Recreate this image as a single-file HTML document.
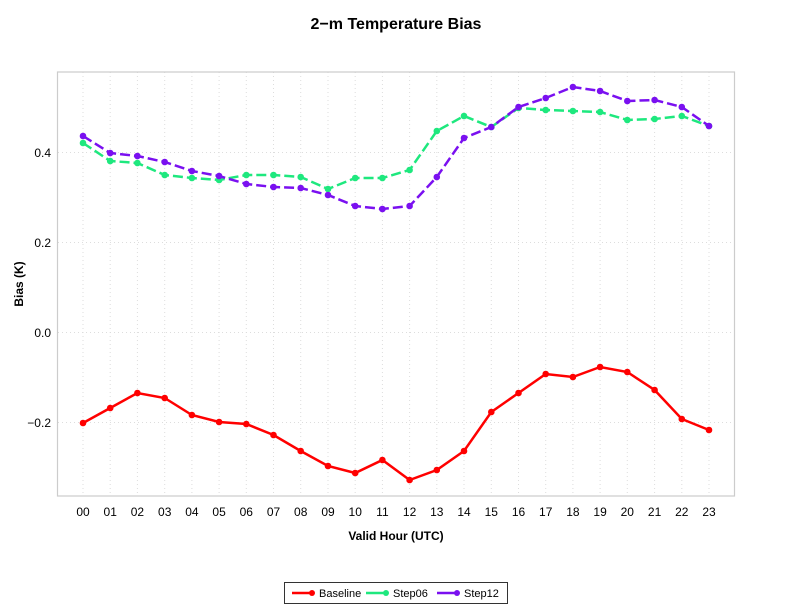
<!DOCTYPE html>
<html><head><meta charset="utf-8"><style>body{margin:0;background:#fff}svg{display:block;font-family:"Liberation Sans",sans-serif}</style></head>
<body>
<svg width="792" height="612" xmlns="http://www.w3.org/2000/svg">
<text x="396" y="29" text-anchor="middle" font-size="16" font-weight="bold">2−m Temperature Bias</text>
<g stroke="#ddd" stroke-dasharray="1,3" stroke-width="1">
<line x1="58" x2="734" y1="152.5" y2="152.5"/><line x1="58" x2="734" y1="242.5" y2="242.5"/><line x1="58" x2="734" y1="332.5" y2="332.5"/><line x1="58" x2="734" y1="422.5" y2="422.5"/>
<line x1="83" x2="83" y1="72" y2="496"/><line x1="110.2" x2="110.2" y1="72" y2="496"/><line x1="137.4" x2="137.4" y1="72" y2="496"/><line x1="164.7" x2="164.7" y1="72" y2="496"/><line x1="191.9" x2="191.9" y1="72" y2="496"/><line x1="219.1" x2="219.1" y1="72" y2="496"/><line x1="246.3" x2="246.3" y1="72" y2="496"/><line x1="273.5" x2="273.5" y1="72" y2="496"/><line x1="300.7" x2="300.7" y1="72" y2="496"/><line x1="328" x2="328" y1="72" y2="496"/><line x1="355.2" x2="355.2" y1="72" y2="496"/><line x1="382.4" x2="382.4" y1="72" y2="496"/><line x1="409.6" x2="409.6" y1="72" y2="496"/><line x1="436.8" x2="436.8" y1="72" y2="496"/><line x1="464" x2="464" y1="72" y2="496"/><line x1="491.3" x2="491.3" y1="72" y2="496"/><line x1="518.5" x2="518.5" y1="72" y2="496"/><line x1="545.7" x2="545.7" y1="72" y2="496"/><line x1="572.9" x2="572.9" y1="72" y2="496"/><line x1="600.1" x2="600.1" y1="72" y2="496"/><line x1="627.3" x2="627.3" y1="72" y2="496"/><line x1="654.6" x2="654.6" y1="72" y2="496"/><line x1="681.8" x2="681.8" y1="72" y2="496"/><line x1="709" x2="709" y1="72" y2="496"/>
</g>
<rect x="57.5" y="72" width="677" height="424" fill="none" stroke="#ccc" stroke-width="1.2"/>
<g font-size="12" text-anchor="end"><text x="51" y="157">0.4</text><text x="51" y="247">0.2</text><text x="51" y="337">0.0</text><text x="51" y="427">−0.2</text></g>
<g font-size="12" text-anchor="middle">
<text x="83" y="516">00</text><text x="110.2" y="516">01</text><text x="137.4" y="516">02</text><text x="164.7" y="516">03</text><text x="191.9" y="516">04</text><text x="219.1" y="516">05</text><text x="246.3" y="516">06</text><text x="273.5" y="516">07</text><text x="300.7" y="516">08</text><text x="328" y="516">09</text><text x="355.2" y="516">10</text><text x="382.4" y="516">11</text><text x="409.6" y="516">12</text><text x="436.8" y="516">13</text><text x="464" y="516">14</text><text x="491.3" y="516">15</text><text x="518.5" y="516">16</text><text x="545.7" y="516">17</text><text x="572.9" y="516">18</text><text x="600.1" y="516">19</text><text x="627.3" y="516">20</text><text x="654.6" y="516">21</text><text x="681.8" y="516">22</text><text x="709" y="516">23</text>
</g>
<text x="396" y="540" text-anchor="middle" font-size="12" font-weight="bold">Valid Hour (UTC)</text>
<text transform="translate(23,284) rotate(-90)" text-anchor="middle" font-size="12" font-weight="bold">Bias (K)</text>
<g id="s"></g>
<rect x="284.5" y="582.5" width="223" height="21" fill="#fff" stroke="#333"/>
<line x1="292" x2="312" y1="593" y2="593" stroke="#f00" stroke-width="2.5"/><circle cx="312" cy="593" r="3" fill="#f00"/><text x="319" y="597" font-size="11">Baseline</text>
<line x1="366" x2="386" y1="593" y2="593" stroke="#1ee87e" stroke-width="2.5"/><circle cx="386" cy="593" r="3" fill="#1ee87e"/><text x="393" y="597" font-size="11">Step06</text>
<line x1="437" x2="457" y1="593" y2="593" stroke="#7a10f0" stroke-width="2.5"/><circle cx="457" cy="593" r="3" fill="#7a10f0"/><text x="464" y="597" font-size="11">Step12</text>
</svg>
<script>
var X=[];for(var i=0;i<24;i++)X.push(83+i*626/23);
var S=[["#f00",[423,408,393,398,415,422,424,435,451,466,473,460,480,470,451,412,393,374,377,367,372,390,419,430]],
["#1ee87e",[143,161,163,175,178,180,175,175,177,189,178,178,170,131,116,127,108,110,111,112,120,119,116,126]],
["#7a10f0",[136,153,156,162,171,176,184,187,188,195,206,209,206,177,138,127,107,98,87,91,101,100,107,126]]];
var h="";S.forEach(function(s){var p=s[1].map(function(y,i){return X[i].toFixed(1)+","+y}).join(" ");
h+='<polyline points="'+p+'" fill="none" stroke="'+s[0]+'" stroke-width="2.5" stroke-dasharray="'+(s[0]=="#f00"?"none":"10,4")+'"/>';
s[1].forEach(function(y,i){h+='<circle cx="'+X[i].toFixed(1)+'" cy="'+y+'" r="3.3" fill="'+s[0]+'"/>';});});
document.getElementById("s").innerHTML=h;
</script>
</body></html>
